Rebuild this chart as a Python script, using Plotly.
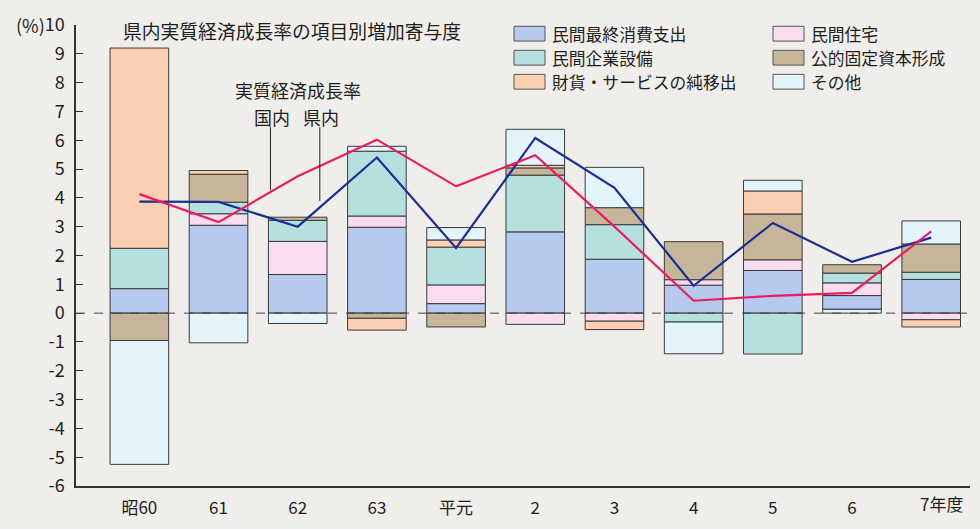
import plotly.graph_objects as go

# 年度（カテゴリ）
categories = ["昭60", "61", "62", "63", "平元", "2", "3", "4", "5", "6", "7"]
tick_labels = ["昭60", "61", "62", "63", "平元", "2", "3", "4", "5", "6", ""]

# 項目別増加寄与度（%）
consumption = [0.85, 3.05, 1.34, 2.98, 0.33, 2.82, 1.87, 0.97, 1.48, 0.47, 1.17]
housing = [None, 0.40, 1.15, 0.39, 0.65, -0.39, -0.28, 0.19, 0.37, 0.44, -0.23]
investment = [1.40, 0.40, 0.73, 2.25, 1.31, 1.97, 1.20, -0.31, -1.42, 0.34, 0.25]
public = [-0.95, 0.97, 0.11, -0.18, -0.48, 0.25, 0.59, 1.32, 1.59, 0.29, 0.98]
net_exports = [6.95, 0.13, None, -0.41, 0.25, 0.09, -0.29, None, 0.80, None, -0.25]
other = [-4.30, -1.03, -0.36, 0.17, 0.43, 1.25, 1.40, -1.10, 0.37, None, 0.80]
other_base = [None, None, None, None, None, None, None, None, None, 0.14, None]

# 実質経済成長率（%）
growth_national = [3.87, 3.86, 3.00, 5.40, 2.26, 6.08, 4.35, 0.95, 3.13, 1.78, 2.62]
growth_prefecture = [4.13, 3.16, 4.75, 6.02, 4.40, 5.48, 3.00, 0.43, 0.60, 0.70, 2.84]

FONT = "Noto Sans CJK JP"
BG = "#f0eeeb"
EDGE = "#3a3a3a"
TXT = "#1e1e1e"

C_CONS = "#b6c9ee"
C_HOUS = "#f9dcef"
C_INV = "#b5e0e0"
C_PUB = "#c6b699"
C_NEX = "#fbcfb2"
C_OTH = "#e3f4fb"

fig = go.Figure()

bar_series = [
    ("その他", other_base, C_OTH),
    ("民間最終消費支出", consumption, C_CONS),
    ("民間住宅", housing, C_HOUS),
    ("民間企業設備", investment, C_INV),
    ("公的固定資本形成", public, C_PUB),
    ("財貨・サービスの純移出", net_exports, C_NEX),
    ("その他", other, C_OTH),
]
for name, vals, color in bar_series:
    fig.add_trace(go.Bar(
        x=categories, y=vals, name=name, width=0.74,
        marker=dict(color=color, line=dict(color=EDGE, width=1)),
        showlegend=False,
    ))

fig.add_trace(go.Scatter(
    x=categories, y=growth_national, mode="lines", name="国内",
    line=dict(color="#1c2f96", width=2.2), showlegend=False,
))
fig.add_trace(go.Scatter(
    x=categories, y=growth_prefecture, mode="lines", name="県内",
    line=dict(color="#ee1c5e", width=2.2), showlegend=False,
))

# plot area in pixels
L, R, T, B = 76, 970, 19, 487


def px(x):
    return (x - L) / (R - L)


def py(y):
    return (B - y) / (B - T)


shapes = []
annotations = []

# zero line
shapes.append(dict(type="line", xref="paper", yref="y", x0=0, x1=1, y0=0, y1=0,
                   line=dict(color="#444", width=1, dash="dash"), layer="above"))

# leader lines for 国内 / 県内
shapes.append(dict(type="line", xref="x", yref="y", x0=1.656, x1=1.656, y0=6.45, y1=4.27,
                   line=dict(color="#222", width=1)))
shapes.append(dict(type="line", xref="x", yref="y", x0=2.279, x1=2.279, y0=6.45, y1=3.89,
                   line=dict(color="#222", width=1)))

# legend: two columns of swatch + label
LEG_SIZE = 16.8
ROW = 24.4
legend_columns = [
    (514, [("民間最終消費支出", C_CONS), ("民間企業設備", C_INV), ("財貨・サービスの純移出", C_NEX)]),
    (773, [("民間住宅", C_HOUS), ("公的固定資本形成", C_PUB), ("その他", C_OTH)]),
]
top_center = 27.8
for x0, items in legend_columns:
    for i, (label, color) in enumerate(items):
        cy = top_center + i * ROW
        shapes.append(dict(type="rect", xref="paper", yref="paper",
                           x0=px(x0), x1=px(x0 + 31), y0=py(cy + 7.5), y1=py(cy - 7.5),
                           fillcolor=color, line=dict(color="#555", width=1)))
        annotations.append(dict(text=label, xref="paper", yref="paper",
                                x=px(x0 + 37), y=py(cy), xanchor="left", yanchor="middle",
                                showarrow=False, borderpad=0,
                                font=dict(family=FONT, size=LEG_SIZE, color=TXT)))

# titles and labels
annotations += [
    dict(text="県内実質経済成長率の項目別増加寄与度", xref="paper", yref="paper",
         x=px(121), y=py(25), xanchor="left", yanchor="middle", showarrow=False,
         font=dict(family=FONT, size=18.8, color=TXT)),
    dict(text="実質経済成長率", xref="paper", yref="paper",
         x=px(233), y=py(85), xanchor="left", yanchor="middle", showarrow=False,
         font=dict(family=FONT, size=18, color=TXT)),
    dict(text="国内", xref="paper", yref="paper",
         x=px(252), y=py(112), xanchor="left", yanchor="middle", showarrow=False,
         font=dict(family=FONT, size=18, color=TXT)),
    dict(text="県内", xref="paper", yref="paper",
         x=px(301), y=py(112), xanchor="left", yanchor="middle", showarrow=False,
         font=dict(family=FONT, size=18, color=TXT)),
    dict(text="(%)", xref="paper", yref="paper",
         x=px(47), y=py(19), xanchor="right", yanchor="middle", showarrow=False,
         font=dict(family=FONT, size=18, color=TXT)),
    dict(text="7年度", xref="paper", yref="paper",
         x=px(918), y=py(505), xanchor="left", yanchor="middle", showarrow=False,
         font=dict(family=FONT, size=17, color=TXT)),
]

y_ticks = list(range(-6, 11))

fig.update_layout(
    width=980, height=529,
    margin=dict(l=L, r=980 - R, t=T, b=529 - B),
    paper_bgcolor=BG, plot_bgcolor=BG,
    barmode="relative", bargap=0.26,
    font=dict(family=FONT, size=17, color=TXT),
    shapes=shapes, annotations=annotations,
    xaxis=dict(
        type="category", range=[-0.8, 10.49],
        tickmode="array", tickvals=categories, ticktext=tick_labels,
        showline=True, linecolor="#333", linewidth=1.5, ticks="",
        ticklabelstandoff=6,
        showgrid=False, zeroline=False,
        tickfont=dict(family=FONT, size=17, color=TXT),
    ),
    yaxis=dict(
        range=[-6, 10], tickmode="array", tickvals=y_ticks,
        ticktext=[str(v) for v in y_ticks],
        showline=True, linecolor="#333", linewidth=1.5,
        ticks="inside", ticklen=7, tickcolor="#333", tickwidth=1.2,
        ticklabelstandoff=6,
        showgrid=False, zeroline=False,
        tickfont=dict(family=FONT, size=18, color=TXT),
    ),
)

fig.write_html("out.html")
